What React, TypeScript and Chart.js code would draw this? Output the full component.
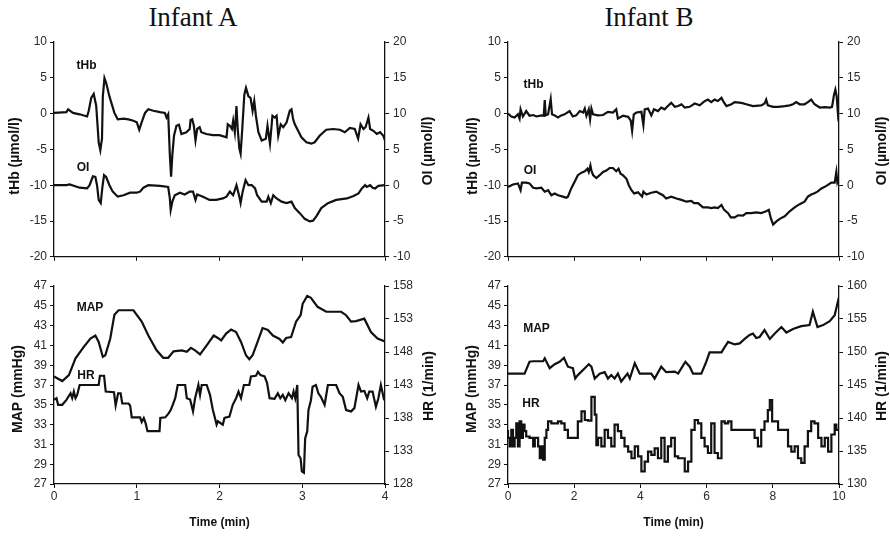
import React, { useEffect, useRef } from "react";
import { Chart, registerables } from "chart.js";

Chart.register(...registerables);
Chart.defaults.font.family = '"Liberation Sans", Arial, sans-serif';

// ---------- Data: [time (min), value] ----------
const tHbA: [number, number][] = [[0,0.1],[0.15,0.2],[0.17,0.6],[0.23,0.1],[0.31,-0.1],[0.40,-0.4],[0.42,0.4],[0.45,2.2],[0.48,2.75],[0.51,1.1],[0.54,-4.0],[0.56,-5.1],[0.58,-3.5],[0.59,2.4],[0.61,4.95],[0.63,4.3],[0.67,2.4],[0.73,0.1],[0.77,-0.8],[0.84,-0.7],[0.90,-0.8],[0.96,-1.0],[1.00,-1.2],[1.03,-2.25],[1.06,-1.2],[1.10,0.1],[1.14,0.6],[1.20,0.4],[1.28,0.2],[1.34,0.1],[1.36,-0.55],[1.38,-0.1],[1.40,-5.8],[1.415,-8.8],[1.43,-5.8],[1.45,-3.1],[1.48,-1.7],[1.51,-1.55],[1.54,-2.85],[1.60,-2.6],[1.64,-2.15],[1.65,-0.9],[1.67,-0.8],[1.69,-1.7],[1.71,-3.75],[1.73,-2.15],[1.76,-1.9],[1.78,-2.6],[1.84,-2.85],[1.92,-3.0],[2.00,-3.0],[2.085,-3.3],[2.10,-1.5],[2.125,-1.7],[2.15,-2.15],[2.165,-1.0],[2.185,-2.6],[2.205,1.05],[2.22,-2.15],[2.24,-4.9],[2.255,-5.6],[2.275,-2.15],[2.30,2.65],[2.32,3.6],[2.35,2.4],[2.375,2.2],[2.40,0.4],[2.42,1.75],[2.44,-0.3],[2.47,-2.6],[2.51,-3.75],[2.56,-3.5],[2.58,-1.7],[2.61,-4.2],[2.64,-0.3],[2.67,-0.55],[2.69,-0.3],[2.71,-3.1],[2.74,-1.5],[2.77,-1.9],[2.81,-1.25],[2.85,0.4],[2.87,0.6],[2.89,-0.8],[2.91,-1.5],[2.95,-2.4],[2.99,-3.3],[3.05,-4.0],[3.11,-4.2],[3.15,-4.0],[3.21,-3.1],[3.29,-2.25],[3.375,-2.15],[3.455,-2.25],[3.515,-2.6],[3.575,-2.0],[3.635,-2.15],[3.675,-3.5],[3.705,-1.5],[3.74,-2.15],[3.765,-1.9],[3.80,-0.55],[3.82,-2.15],[3.86,-2.4],[3.90,-2.85],[3.94,-2.6],[3.98,-3.1],[4.00,-3.75]];

const oiA: [number, number][] = [[0,0],[0.15,0],[0.19,0.1],[0.31,-0.35],[0.40,-0.45],[0.43,0],[0.47,1.25],[0.50,1.15],[0.52,0],[0.54,-2.05],[0.565,-2.5],[0.585,-0.25],[0.605,1.4],[0.63,1.15],[0.67,0],[0.71,-0.9],[0.77,-1.6],[0.84,-1.4],[0.92,-1.05],[1.00,-1.05],[1.04,-0.9],[1.08,-0.35],[1.14,0],[1.28,-0.1],[1.38,-0.25],[1.40,-1.85],[1.41,-3.45],[1.43,-2.3],[1.46,-1.4],[1.52,-1.05],[1.58,-1.3],[1.64,-0.9],[1.68,-0.9],[1.71,-2.05],[1.73,-1.3],[1.80,-1.6],[1.88,-2.05],[1.96,-2.05],[2.04,-1.85],[2.085,-1.6],[2.125,-0.9],[2.165,-1.4],[2.205,0],[2.24,-1.6],[2.255,-2.5],[2.28,-0.9],[2.315,0.7],[2.35,0],[2.39,0],[2.43,-0.45],[2.455,-1.4],[2.51,-2.3],[2.57,-2.3],[2.59,-1.6],[2.62,-2.5],[2.65,-1.4],[2.69,-1.85],[2.75,-2.3],[2.81,-2.5],[2.87,-2.3],[2.91,-3.2],[2.97,-3.9],[3.03,-4.7],[3.09,-5.05],[3.13,-4.95],[3.17,-4.35],[3.23,-3.2],[3.31,-2.5],[3.41,-2.05],[3.54,-1.85],[3.62,-1.5],[3.68,-1.15],[3.72,-0.45],[3.76,0],[3.78,-0.25],[3.82,0],[3.85,-0.35],[3.88,-0.45],[3.92,-0.1],[4.00,0]];

const mapA: [number, number][] = [[0,37.85],[0.10,37.4],[0.18,38.0],[0.26,39.7],[0.36,40.85],[0.44,41.7],[0.50,42.0],[0.54,41.35],[0.59,39.85],[0.62,40.0],[0.68,41.7],[0.73,44.1],[0.78,44.55],[0.96,44.55],[1.06,43.4],[1.14,42.0],[1.24,40.5],[1.32,39.75],[1.38,39.75],[1.445,40.4],[1.545,40.5],[1.605,40.35],[1.655,40.75],[1.705,40.5],[1.765,40.1],[1.845,41.0],[1.93,42.0],[1.98,41.75],[2.02,41.5],[2.08,42.2],[2.14,42.6],[2.20,42.35],[2.26,41.35],[2.32,40.0],[2.36,39.6],[2.40,40.0],[2.46,41.35],[2.52,42.75],[2.585,42.55],[2.645,42.0],[2.725,41.65],[2.765,41.3],[2.805,41.75],[2.865,41.85],[2.925,43.4],[2.98,44.05],[3.005,45.2],[3.06,46.0],[3.105,45.8],[3.185,44.9],[3.29,44.4],[3.47,44.4],[3.53,44.05],[3.59,43.4],[3.65,43.45],[3.75,43.7],[3.83,42.35],[3.91,41.7],[4.0,41.4]];

const hrA: [number, number][] = [[0,140.75],[0.03,141.0],[0.05,140.0],[0.10,140.0],[0.15,140.75],[0.20,141.75],[0.22,141.0],[0.24,142.0],[0.26,141.0],[0.28,141.5],[0.31,143.0],[0.54,143.0],[0.555,144.4],[0.605,144.4],[0.625,142.0],[0.725,141.9],[0.745,139.9],[0.775,141.75],[0.805,141.75],[0.825,140.2],[0.90,140.2],[0.92,139.9],[0.94,138.1],[1.04,138.1],[1.06,137.4],[1.085,138.0],[1.105,137.3],[1.13,136.0],[1.275,136.0],[1.285,138.0],[1.345,138.1],[1.385,138.7],[1.41,139.2],[1.435,140.0],[1.465,141.0],[1.495,143.0],[1.585,143.0],[1.605,141.0],[1.645,140.8],[1.68,139.0],[1.705,141.0],[1.745,143.0],[1.765,141.5],[1.785,143.0],[1.845,143.0],[1.885,141.5],[1.92,139.2],[1.965,137.0],[1.98,137.5],[2.04,137.0],[2.06,138.0],[2.12,138.2],[2.16,140.0],[2.20,141.0],[2.23,142.0],[2.26,141.0],[2.295,143.0],[2.36,143.0],[2.38,144.3],[2.44,144.4],[2.465,145.0],[2.495,144.5],[2.545,144.3],[2.575,143.3],[2.605,141.0],[2.665,140.9],[2.705,141.75],[2.735,141.0],[2.765,141.5],[2.795,140.7],[2.835,141.75],[2.875,141.0],[2.895,142.0],[2.915,141.0],[2.94,143.0],[2.955,132.4],[2.98,131.9],[2.995,129.9],[3.02,129.7],[3.035,134.9],[3.06,136.0],[3.075,139.2],[3.105,140.7],[3.125,142.75],[3.165,143.0],[3.195,141.75],[3.225,141.2],[3.27,140.0],[3.31,143.0],[3.41,143.0],[3.45,141.75],[3.49,141.2],[3.53,139.2],[3.59,139.0],[3.63,139.5],[3.68,143.0],[3.71,142.0],[3.75,142.1],[3.785,141.0],[3.81,142.0],[3.85,142.0],[3.89,139.7],[3.92,141.0],[3.95,143.0],[3.99,140.7]];

const tHbB: [number, number][] = [[0,0],[0.10,-0.4],[0.20,-0.55],[0.30,-0.1],[0.35,-0.7],[0.38,0.6],[0.45,-0.4],[0.55,0.35],[0.65,-0.3],[0.76,-0.2],[0.86,-0.4],[1.01,-0.25],[1.08,-0.3],[1.11,1.9],[1.14,-0.25],[1.21,-0.1],[1.29,2.0],[1.33,-0.1],[1.41,-0.25],[1.51,-0.55],[1.61,-0.25],[1.71,-0.1],[1.86,0.35],[1.96,-0.4],[2.06,-0.25],[2.17,0.35],[2.27,0.15],[2.32,0.7],[2.37,-0.3],[2.44,0.6],[2.48,-0.8],[2.52,0.7],[2.57,-0.1],[2.72,-0.25],[2.87,-0.2],[3.02,0.25],[3.17,0.15],[3.27,0.6],[3.32,-0.7],[3.47,-0.3],[3.63,-0.45],[3.71,-1.0],[3.75,-2.4],[3.80,-0.1],[3.88,0.15],[4.03,0.25],[4.09,-1.6],[4.13,0.6],[4.23,0.7],[4.33,-0.25],[4.41,0.6],[4.53,0.35],[4.63,0.85],[4.73,0.6],[4.83,1.05],[4.93,1.5],[5.04,0.95],[5.14,1.05],[5.24,1.3],[5.34,0.85],[5.49,0.95],[5.64,1.4],[5.79,1.15],[5.94,1.75],[6.04,1.95],[6.14,1.6],[6.24,1.95],[6.34,1.75],[6.45,2.2],[6.50,1.75],[6.60,1.05],[6.75,1.3],[6.85,1.6],[7.05,1.5],[7.20,1.3],[7.40,1.05],[7.65,1.15],[7.75,1.4],[7.80,1.95],[7.85,1.15],[8.01,0.95],[8.16,0.95],[8.36,1.05],[8.51,1.15],[8.61,1.3],[8.71,1.6],[8.81,1.3],[8.96,1.3],[9.06,1.6],[9.16,1.95],[9.26,1.3],[9.42,0.85],[9.57,0.9],[9.72,0.85],[9.79,0.95],[9.85,2.65],[9.89,3.35],[9.93,2.45],[9.97,-0.1],[10.0,0.6]];

const oiB: [number, number][] = [[0,-0.25],[0.15,0.1],[0.30,0.25],[0.38,-0.7],[0.42,0.35],[0.55,0.35],[0.65,0.25],[0.76,-0.35],[0.86,-0.45],[1.01,-0.35],[1.11,-0.9],[1.21,-0.7],[1.31,-1.4],[1.41,-1.15],[1.51,-1.4],[1.66,-1.6],[1.76,-1.75],[1.81,-1.6],[1.91,-0.45],[2.01,0.45],[2.11,1.4],[2.22,1.75],[2.32,1.95],[2.40,2.3],[2.44,1.85],[2.49,2.75],[2.52,2.05],[2.57,1.4],[2.67,1.0],[2.77,1.4],[2.87,1.85],[2.97,2.05],[3.07,2.4],[3.17,2.4],[3.27,1.95],[3.34,2.3],[3.40,1.6],[3.47,1.4],[3.58,0.9],[3.65,0],[3.73,-0.7],[3.81,-1.15],[3.93,-1.0],[4.05,-1.6],[4.09,-0.9],[4.18,-1.3],[4.33,-1.05],[4.48,-0.9],[4.58,-1.15],[4.68,-1.4],[4.78,-1.85],[4.93,-1.6],[5.09,-1.85],[5.24,-2.05],[5.39,-2.3],[5.54,-2.2],[5.62,-2.5],[5.74,-2.5],[5.89,-3.1],[6.04,-3.1],[6.14,-3.2],[6.24,-3.1],[6.34,-3.2],[6.45,-2.75],[6.53,-3.45],[6.65,-3.9],[6.73,-4.5],[6.85,-4.5],[6.95,-4.2],[7.10,-4.25],[7.20,-3.9],[7.35,-3.9],[7.50,-3.8],[7.65,-3.9],[7.80,-3.65],[7.88,-3.45],[7.94,-4.6],[8.01,-5.5],[8.11,-5.05],[8.21,-4.7],[8.36,-4.35],[8.51,-3.65],[8.66,-3.1],[8.81,-2.65],[8.96,-2.3],[9.06,-1.6],[9.16,-1.3],[9.24,-1.15],[9.35,-0.9],[9.47,-0.45],[9.62,-0.1],[9.77,0.35],[9.87,0.35],[9.92,1.85],[9.95,0.45],[10.0,1.15]];

const mapB: [number, number][] = [[0,38.15],[0.50,38.15],[0.65,39.35],[0.76,39.4],[1.06,39.4],[1.11,39.7],[1.26,38.7],[1.41,39.1],[1.56,39.35],[1.69,39.75],[1.81,38.85],[1.96,38.7],[2.03,37.65],[2.11,38.0],[2.32,38.7],[2.44,39.1],[2.52,38.85],[2.62,37.65],[2.77,38.15],[2.92,38.3],[3.02,37.65],[3.12,38.0],[3.22,37.65],[3.32,38.15],[3.42,37.35],[3.61,38.15],[3.68,37.65],[3.83,39.2],[3.98,38.15],[4.33,38.15],[4.43,37.65],[4.63,38.85],[4.78,38.3],[5.04,38.35],[5.14,38.15],[5.24,38.7],[5.36,39.35],[5.49,38.85],[5.59,38.15],[5.84,38.15],[5.99,39.35],[6.09,40.3],[6.45,40.3],[6.55,40.85],[6.65,41.35],[6.85,41.1],[7.00,41.2],[7.15,41.65],[7.30,42.05],[7.40,42.2],[7.50,41.75],[7.60,41.85],[7.75,42.55],[7.91,41.65],[8.06,42.2],[8.26,42.85],[8.41,42.3],[8.61,42.65],[8.86,42.95],[9.11,43.05],[9.21,44.4],[9.35,42.85],[9.52,43.05],[9.72,43.45],[9.87,44.05],[10.0,45.9]];

const hrB: [number, number][] = [[0,138.2],[0.05,137.0],[0.10,135.7],[0.15,138.2],[0.20,135.7],[0.25,137.0],[0.30,139.2],[0.35,135.7],[0.40,139.5],[0.45,137.0],[0.50,139.0],[0.55,138.0],[0.65,137.2],[0.76,137.0],[0.81,135.7],[0.91,137.0],[0.96,135.7],[1.01,133.9],[1.06,135.7],[1.11,133.7],[1.16,137.0],[1.21,138.2],[1.31,139.5],[1.41,139.2],[1.51,139.2],[1.61,139.5],[1.71,139.2],[1.81,138.2],[1.91,137.0],[2.11,137.0],[2.22,139.5],[2.32,141.0],[2.42,139.7],[2.52,139.6],[2.62,143.2],[2.67,140.5],[2.72,135.9],[2.82,137.0],[2.92,135.7],[3.02,138.2],[3.12,137.0],[3.22,135.7],[3.32,139.0],[3.42,138.0],[3.52,137.0],[3.63,135.7],[3.73,134.9],[3.83,133.9],[3.93,135.7],[4.03,134.2],[4.13,131.9],[4.23,133.4],[4.33,134.9],[4.43,134.4],[4.53,135.4],[4.63,133.9],[4.73,137.0],[4.83,133.4],[4.93,135.7],[5.04,137.0],[5.14,134.2],[5.24,133.9],[5.34,133.9],[5.44,131.9],[5.54,133.4],[5.64,138.2],[5.74,139.7],[5.84,139.2],[5.94,137.0],[6.04,135.7],[6.14,134.7],[6.24,139.2],[6.34,134.7],[6.45,133.9],[6.55,139.5],[6.65,139.2],[6.75,139.5],[6.95,138.2],[7.45,138.2],[7.55,137.0],[7.65,135.7],[7.75,138.2],[7.85,139.5],[7.91,141.2],[7.98,142.7],[8.06,139.5],[8.16,139.5],[8.26,138.2],[8.46,138.2],[8.56,135.7],[8.66,134.9],[8.76,135.7],[8.86,133.9],[8.96,133.2],[9.06,135.7],[9.16,138.0],[9.26,139.5],[9.37,139.2],[9.47,137.0],[9.57,135.7],[9.67,137.0],[9.77,134.9],[9.87,137.5],[9.92,139.0],[10.0,138.2]];

// ---------- Axis ranges ----------
const topLeftAxis = { min: -20, max: 10, step: 5 };
const topRightAxis = { min: -10, max: 20, step: 5 };
const mapAxis = { min: 27, max: 47, step: 2 };
const hrAxisA = { min: 128, max: 158, step: 5 };
const hrAxisB = { min: 130, max: 160, step: 5 };
const timeA = { max: 4, step: 1 };
const timeB = { max: 10, step: 2 };

const INK = "#111";
const TICK_COLOR = "#2a2a2a";

type Txt = { text: string; x: number; y: number; rotate?: boolean; size?: number };

function textPlugin(labels: Txt[]) {
  return {
    id: "panelText",
    afterDraw(chart: any) {
      const ctx = chart.ctx as CanvasRenderingContext2D;
      ctx.save();
      ctx.fillStyle = INK;
      ctx.textAlign = "center";
      ctx.textBaseline = "middle";
      for (const l of labels) {
        ctx.font = `bold ${l.size ?? 12}px "Liberation Sans", Arial, sans-serif`;
        if (l.rotate) {
          ctx.save();
          ctx.translate(l.x, l.y);
          ctx.rotate(-Math.PI / 2);
          ctx.fillText(l.text, 0, 0);
          ctx.restore();
        } else {
          ctx.fillText(l.text, l.x, l.y);
        }
      }
      ctx.restore();
    },
  };
}

type PanelProps = {
  left: number; top: number; width: number; height: number;
  padTop: number; leftW: number; rightW: number; xH: number;
  time: { max: number; step: number }; showX: boolean;
  yL: { min: number; max: number; step: number };
  yR: { min: number; max: number; step: number };
  sL: [number, number][]; sR: [number, number][];
  stepR?: boolean;
  labels: Txt[];
};

const toPts = (s: [number, number][]) => s.map(([x, y]) => ({ x, y }));

function Panel(p: PanelProps) {
  const ref = useRef<HTMLCanvasElement>(null);
  useEffect(() => {
    const tickFont = { size: 12 };
    const grid = { drawOnChartArea: false, drawTicks: true, tickLength: 4, color: INK, lineWidth: 1 };
    const border = { color: INK, width: 1.3 };
    const chart = new Chart(ref.current!, {
      type: "line",
      data: {
        datasets: [
          { data: toPts(p.sL), yAxisID: "yL", borderColor: INK, borderWidth: 2.2, pointRadius: 0, tension: 0, fill: false },
          { data: toPts(p.sR), yAxisID: "yR", borderColor: INK, borderWidth: 2.2, pointRadius: 0, tension: 0, fill: false, stepped: p.stepR ? "after" : false },
        ],
      } as any,
      options: {
        animation: false,
        responsive: false,
        maintainAspectRatio: false,
        events: [],
        layout: { padding: { top: p.padTop, left: 0, right: 0, bottom: 0 } },
        plugins: { legend: { display: false }, tooltip: { enabled: false }, title: { display: false } },
        scales: {
          x: {
            type: "linear", position: "bottom", min: 0, max: p.time.max,
            ticks: { stepSize: p.time.step, display: p.showX, font: tickFont, color: TICK_COLOR, padding: 1, maxRotation: 0 },
            grid, border,
            title: { display: p.showX, text: "Time (min)", color: INK, font: { size: 12, weight: "bold" }, padding: { top: 0, bottom: 6 } },
            afterFit: (s: any) => { s.height = p.xH; },
          },
          yL: {
            type: "linear", position: "left", min: p.yL.min, max: p.yL.max,
            ticks: { stepSize: p.yL.step, font: tickFont, color: TICK_COLOR, padding: 3 },
            grid, border,
            afterFit: (s: any) => { s.width = p.leftW; },
          },
          yR: {
            type: "linear", position: "right", min: p.yR.min, max: p.yR.max,
            ticks: { stepSize: p.yR.step, font: tickFont, color: TICK_COLOR, padding: 4 },
            grid, border,
            afterFit: (s: any) => { s.width = p.rightW; },
          },
        },
      } as any,
      plugins: [textPlugin(p.labels)],
    });
    return () => chart.destroy();
  }, []);
  return (
    <canvas
      ref={ref}
      width={p.width}
      height={p.height}
      style={{ position: "absolute", left: p.left, top: p.top, width: p.width, height: p.height }}
    />
  );
}

const titleStyle = (cx: number): React.CSSProperties => ({
  position: "absolute",
  left: cx - 100,
  top: 4,
  width: 200,
  textAlign: "center",
  fontFamily: '"Liberation Serif", "Times New Roman", serif',
  fontSize: 27,
  lineHeight: "27px",
  color: "#111",
});

export default function App() {
  return (
    <div style={{ position: "absolute", left: 0, top: 0, width: 890, height: 536, background: "#fff", overflow: "hidden" }}>
      <div style={titleStyle(193)}>Infant A</div>
      <div style={titleStyle(649)}>Infant B</div>
      <Panel
        left={0} top={0} width={445} height={268} padTop={42} leftW={54} rightW={60} xH={8}
        time={timeA} showX={false} yL={topLeftAxis} yR={topRightAxis} sL={tHbA} sR={oiA}
        labels={[
          { text: "tHb", x: 86.5, y: 65.5 },
          { text: "OI", x: 83, y: 167.5 },
          { text: "tHb (µmol/l)", x: 15, y: 156, rotate: true, size: 14 },
          { text: "OI (µmol/l)", x: 428, y: 151, rotate: true, size: 14 },
        ]}
      />
      <Panel
        left={0} top={268} width={445} height={268} padTop={18} leftW={54} rightW={60} xH={52}
        time={timeA} showX={true} yL={mapAxis} yR={hrAxisA} sL={mapA} sR={hrA}
        labels={[
          { text: "MAP", x: 90, y: 40 },
          { text: "HR", x: 86, y: 108 },
          { text: "MAP (mmHg)", x: 18.5, y: 121, rotate: true, size: 14 },
          { text: "HR (1/min)", x: 429, y: 118, rotate: true, size: 14 },
        ]}
      />
      <Panel
        left={445} top={0} width={445} height={268} padTop={42} leftW={63} rightW={51} xH={8}
        time={timeB} showX={false} yL={topLeftAxis} yR={topRightAxis} sL={tHbB} sR={oiB}
        labels={[
          { text: "tHb", x: 88.5, y: 84.5 },
          { text: "OI", x: 85, y: 171 },
          { text: "tHb (µmol/l)", x: 28, y: 156, rotate: true, size: 14 },
          { text: "OI (µmol/l)", x: 437, y: 151, rotate: true, size: 14 },
        ]}
      />
      <Panel
        left={445} top={268} width={445} height={268} padTop={18} leftW={63} rightW={51} xH={52}
        time={timeB} showX={true} yL={mapAxis} yR={hrAxisB} sL={mapB} sR={hrB} stepR={true}
        labels={[
          { text: "MAP", x: 91.5, y: 61 },
          { text: "HR", x: 86, y: 136 },
          { text: "MAP (mmHg)", x: 27.5, y: 121, rotate: true, size: 14 },
          { text: "HR (1/min)", x: 437.5, y: 118, rotate: true, size: 14 },
        ]}
      />
    </div>
  );
}
